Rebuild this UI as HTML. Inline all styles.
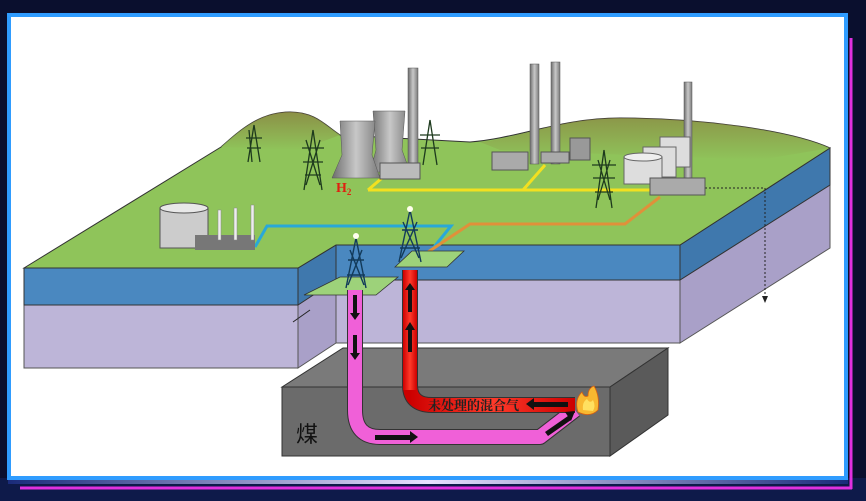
<!DOCTYPE html>
<html><head><meta charset="utf-8"><style>
html,body{margin:0;padding:0;background:#0a0f2e;}
svg{display:block}
</style></head><body>
<svg width="866" height="501" viewBox="0 0 866 501" xmlns="http://www.w3.org/2000/svg" font-family="Liberation Serif, Noto Serif CJK SC, serif">
<defs>
<linearGradient id="hill" x1="0" y1="0" x2="0" y2="1"><stop offset="0" stop-color="#8a7a3e"/><stop offset="1" stop-color="#8fc45a"/></linearGradient>
<linearGradient id="tow" x1="0" y1="0" x2="1" y2="0"><stop offset="0" stop-color="#6d6d6d"/><stop offset="0.5" stop-color="#c8c8c8"/><stop offset="1" stop-color="#7a7a7a"/></linearGradient>
<linearGradient id="red" x1="0" y1="0" x2="1" y2="0"><stop offset="0" stop-color="#c00"/><stop offset="0.5" stop-color="#ff3a2a"/><stop offset="1" stop-color="#c00"/></linearGradient>
<linearGradient id="bot" x1="0" y1="0" x2="1" y2="0"><stop offset="0" stop-color="#1a2b7a"/><stop offset="0.5" stop-color="#e8e0ff"/><stop offset="1" stop-color="#1a2b7a"/></linearGradient>
</defs>
<rect width="866" height="501" fill="#0a0f2e"/>
<rect x="0" y="478" width="866" height="23" fill="#0e1a4a"/>
<rect x="8" y="478" width="840" height="6" fill="url(#bot)"/>
<line x1="20" y1="488" x2="852" y2="488" stroke="#e030e0" stroke-width="3"/>
<line x1="851" y1="38" x2="851" y2="489" stroke="#e030e0" stroke-width="3"/>
<rect x="9" y="15" width="837" height="463" fill="#fff" stroke="#2f9cff" stroke-width="4"/>

<polygon points="24,305 298,305 298,368 24,368" fill="#bdb5d8" stroke="#555" stroke-width="1"/>
<polygon points="336,280 680,280 680,343 336,343" fill="#bdb5d8" stroke="#555" stroke-width="1"/>
<polygon points="298,305 336,280 336,343 298,368" fill="#a9a0c8" stroke="#555" stroke-width="1"/>
<polygon points="680,280 830,185 830,248 680,343" fill="#a9a0c8" stroke="#555" stroke-width="1"/>
<polygon points="24,268 298,268 298,305 24,305" fill="#4a88c0" stroke="#333" stroke-width="1"/>
<polygon points="336,245 680,245 680,280 336,280" fill="#4a88c0" stroke="#333" stroke-width="1"/>
<polygon points="298,268 336,245 336,280 298,305" fill="#3f78ad" stroke="#333" stroke-width="1"/>
<polygon points="680,245 830,148 830,185 680,280" fill="#3f78ad" stroke="#333" stroke-width="1"/>
<path d="M24,268 L221,147 C240,130 260,112 290,112 C315,112 325,125 340,135 L470,142 C520,138 560,118 620,118 C700,118 790,130 830,148 L680,245 L336,245 L298,268 Z" fill="#8fc45a" stroke="#333" stroke-width="1"/>
<path d="M221,147 C240,130 260,112 290,112 C315,112 325,125 340,135 L300,150 Z" fill="url(#hill)" opacity="0.7"/>
<path d="M480,142 C520,138 560,118 620,118 C700,118 790,130 830,148 L760,160 L500,150 Z" fill="url(#hill)" opacity="0.6"/>

<polyline points="255,247 267,226 451,226 430,252" fill="none" stroke="#29a8d8" stroke-width="3"/>
<polyline points="368,190 650,190" fill="none" stroke="#f2e020" stroke-width="3"/>
<polyline points="368,190 382,178" fill="none" stroke="#f2e020" stroke-width="3"/>
<polyline points="523,190 545,165" fill="none" stroke="#f2e020" stroke-width="3"/>
<polyline points="425,254 470,224 625,224 660,197" fill="none" stroke="#e0903a" stroke-width="3"/>
<polyline points="705,188 765,188 765,300" fill="none" stroke="#222" stroke-width="1" stroke-dasharray="2,2"/>
<polygon points="762,296 768,296 765,303" fill="#222"/>
<line x1="293" y1="322" x2="310" y2="310" stroke="#222" stroke-width="1"/>

<rect x="160" y="208" width="48" height="40" fill="#ccc" stroke="#555"/>
<ellipse cx="184" cy="208" rx="24" ry="5" fill="#e8e8e8" stroke="#555"/>
<rect x="195" y="235" width="60" height="15" fill="#777"/>
<rect x="218" y="210" width="3" height="30" fill="#eee" stroke="#888" stroke-width=".5"/>
<rect x="234" y="208" width="3" height="32" fill="#eee" stroke="#888" stroke-width=".5"/>
<rect x="251" y="205" width="3" height="35" fill="#eee" stroke="#888" stroke-width=".5"/>

<rect x="408" y="68" width="10" height="100" fill="url(#tow)" stroke="#555" stroke-width=".5"/>
<path d="M373,111 L405,111 L402,150 L410,172 L370,172 L376,150 Z" fill="url(#tow)" stroke="#555" stroke-width=".5"/>
<path d="M340,121 L375,121 L372,155 L380,178 L332,178 L342,155 Z" fill="url(#tow)" stroke="#555" stroke-width=".5"/>
<rect x="380" y="163" width="40" height="16" fill="#bbb" stroke="#555"/>
<rect x="530" y="64" width="9" height="100" fill="url(#tow)" stroke="#555" stroke-width=".5"/>
<rect x="551" y="62" width="9" height="102" fill="url(#tow)" stroke="#555" stroke-width=".5"/>
<rect x="492" y="152" width="36" height="18" fill="#aaa" stroke="#555"/>
<rect x="541" y="152" width="28" height="11" fill="#aaa" stroke="#555"/>
<rect x="570" y="138" width="20" height="22" fill="#999" stroke="#555"/>
<rect x="684" y="82" width="8" height="100" fill="url(#tow)" stroke="#555" stroke-width=".5"/>
<rect x="660" y="137" width="30" height="30" fill="#ddd" stroke="#666"/>
<rect x="643" y="147" width="33" height="30" fill="#ddd" stroke="#666"/>
<rect x="624" y="157" width="38" height="27" fill="#ddd" stroke="#666"/>
<ellipse cx="643" cy="157" rx="19" ry="4" fill="#eee" stroke="#666"/>
<rect x="650" y="178" width="55" height="17" fill="#aaa" stroke="#555"/>

<g stroke="#1d3a1d" stroke-width="1.3" fill="none">
<path d="M254,125 L248,162 M254,125 L260,162 M246,138 L262,138 M247,148 L261,148 M249,130 L252,162"/>
<path d="M313,130 L304,190 M313,130 L322,190 M302,148 L324,148 M303,162 L323,162 M305,175 L321,175 M306,140 L320,185 M320,140 L306,185"/>
<path d="M430,120 L423,165 M430,120 L437,165 M420,135 L440,135 M421,148 L439,148"/>
<path d="M604,150 L596,208 M604,150 L612,208 M592,165 L616,165 M593,178 L615,178 M595,192 L613,192 M598,160 L610,200 M610,160 L598,200"/>
</g>

<polygon points="304,295 340,277 398,277 376,295" fill="#9dd27a" stroke="#333" stroke-width=".8"/>
<polygon points="395,267 412,251 464,251 447,267" fill="#9dd27a" stroke="#333" stroke-width=".8"/>
<g stroke="#123a5a" stroke-width="1.4" fill="none">
<path d="M356,238 L346,288 M356,238 L366,288 M348,260 L364,260 M347,275 L365,275 M350,250 L364,285 M362,250 L348,285"/>
<path d="M410,210 L399,262 M410,210 L421,262 M402,230 L418,230 M400,248 L420,248 M403,222 L419,258 M417,222 L401,258"/>
</g>
<circle cx="356" cy="236" r="3" fill="#ffe"/><circle cx="410" cy="209" r="3" fill="#ffe"/>

<polygon points="282,387 343,348 668,348 610,387" fill="#7a7a7a" stroke="#333"/>
<polygon points="610,387 668,348 668,415 610,456" fill="#5a5a5a" stroke="#333"/>
<rect x="282" y="387" width="328" height="69" fill="#6b6b6b" stroke="#333"/>
<text x="296" y="442" font-size="22" fill="#111" font-family="Liberation Sans, Noto Sans CJK SC, sans-serif">煤</text>

<path d="M355,290 L355,410 Q355,437 380,437 L540,437 L575,410" fill="none" stroke="#333" stroke-width="16" stroke-linejoin="round"/>
<path d="M355,290 L355,410 Q355,437 380,437 L540,437 L575,410" fill="none" stroke="#f060d8" stroke-width="14" stroke-linejoin="round"/>
<path d="M410,270 L410,385 Q410,405 432,405 L575,405" fill="none" stroke="#333" stroke-width="16"/>
<path d="M410,270 L410,385 Q410,405 432,405 L575,405" fill="none" stroke="url(#red)" stroke-width="14"/>
<rect x="403" y="270" width="14" height="120" fill="url(#red)"/>
<g fill="#111">
<rect x="353" y="295" width="4" height="18"/><polygon points="350,313 360,313 355,320"/>
<rect x="353" y="335" width="4" height="18"/><polygon points="350,353 360,353 355,360"/>
<rect x="408" y="290" width="4" height="22"/><polygon points="405,290 415,290 410,283"/>
<rect x="408" y="330" width="4" height="22"/><polygon points="405,330 415,330 410,322"/>
<rect x="375" y="435" width="35" height="5"/><polygon points="410,431 418,437 410,443"/>
<polygon points="545,432 568,416 571,420 548,436"/><polygon points="565,412 575,411 571,421"/>
<rect x="533" y="402" width="35" height="5"/><polygon points="534,398 526,404 534,410"/>
</g>
<text x="428" y="410" font-size="13" font-weight="bold" fill="#222">未处理的混合气</text>
<path d="M578,412 Q574,400 582,392 Q584,398 588,396 Q588,388 594,386 Q600,396 598,410 Q590,418 578,412 Z" fill="#f8b830" stroke="#d86010" stroke-width=".8"/>
<path d="M583,410 Q582,402 587,399 Q590,404 593,400 Q596,406 593,411 Z" fill="#ffe060"/>
<text x="336" y="192" font-size="14" font-weight="bold" fill="#e02010">H<tspan font-size="9" dy="3">2</tspan></text>
</svg>
</body></html>
